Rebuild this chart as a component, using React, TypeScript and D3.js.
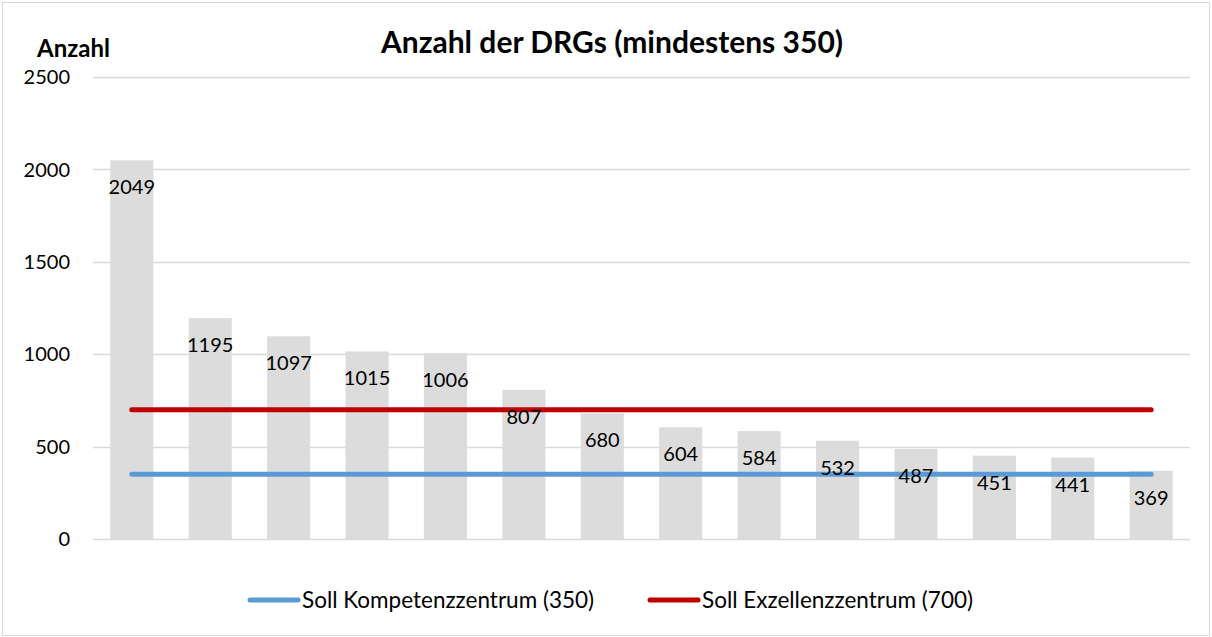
import React, { useEffect, useRef } from "react";
import * as d3 from "d3";

const categories = ["DRG 1", "DRG 2", "DRG 3", "DRG 4", "DRG 5", "DRG 6", "DRG 7", "DRG 8", "DRG 9", "DRG 10", "DRG 11", "DRG 12", "DRG 13", "DRG 14"];
const counts = [2049, 1195, 1097, 1015, 1006, 807, 680, 604, 584, 532, 487, 451, 441, 369];
const yTicks = [0, 500, 1000, 1500, 2000, 2500];
const targets = [
    { label: "Soll Kompetenzzentrum (350)", value: 350, color: "#5b9bd5" },
    { label: "Soll Exzellenzzentrum (700)", value: 700, color: "#c00000" },
];

const FONT = "Lato, 'Open Sans', sans-serif";

const App = () => {
    const chartRef = useRef<SVGSVGElement | null>(null);

    useEffect(() => {
        const width = 1212, height = 637;
        const svg = d3.select(chartRef.current)
            .attr("width", width)
            .attr("height", height);

        svg.selectAll("*").remove();

        // chart frame
        svg.append("rect")
            .attr("x", 2.5).attr("y", 2.5)
            .attr("width", 1207).attr("height", 633)
            .attr("fill", "#fff")
            .attr("stroke", "#d9d9d9");

        const x = d3.scaleBand()
            .domain(categories)
            .range([93, 1190])
            .paddingInner(0.45)
            .paddingOuter(0.22);

        const y = d3.scaleLinear()
            .domain([0, 2500])
            .range([539, 77]);

        // gridlines + tick labels
        const grid = svg.append("g");
        grid.selectAll("line")
            .data(yTicks)
            .enter()
            .append("line")
            .attr("x1", 93).attr("x2", 1190)
            .attr("y1", d => Math.round(y(d)) + 0.5)
            .attr("y2", d => Math.round(y(d)) + 0.5)
            .attr("stroke", "#d9d9d9")
            .attr("stroke-width", 1.5);

        grid.selectAll("text")
            .data(yTicks)
            .enter()
            .append("text")
            .attr("x", 70)
            .attr("y", d => y(d))
            .attr("dy", "0.36em")
            .attr("text-anchor", "end")
            .attr("font-family", FONT)
            .attr("font-size", 20)
            .attr("fill", "#000")
            .text(d => d);

        // bars
        svg.append("g")
            .selectAll("rect")
            .data(counts)
            .enter()
            .append("rect")
            .attr("x", (d, i) => x(categories[i]))
            .attr("y", d => y(d))
            .attr("width", x.bandwidth())
            .attr("height", d => y(0) - y(d))
            .attr("fill", "#dcdcdc");

        // target lines
        const x0 = x(categories[0]) + x.bandwidth() / 2;
        const x1 = x(categories[categories.length - 1]) + x.bandwidth() / 2;
        svg.append("g")
            .selectAll("line")
            .data(targets)
            .enter()
            .append("line")
            .attr("x1", x0).attr("x2", x1)
            .attr("y1", d => y(d.value))
            .attr("y2", d => y(d.value))
            .attr("stroke", d => d.color)
            .attr("stroke-width", 5)
            .attr("stroke-linecap", "round");

        // data labels (inside end)
        svg.append("g")
            .selectAll("text")
            .data(counts)
            .enter()
            .append("text")
            .attr("x", (d, i) => x(categories[i]) + x.bandwidth() / 2)
            .attr("y", d => y(d) + 34)
            .attr("text-anchor", "middle")
            .attr("font-family", FONT)
            .attr("font-size", 20)
            .attr("fill", "#000")
            .text(d => d);

        // titles
        svg.append("text")
            .attr("x", 612).attr("y", 53)
            .attr("text-anchor", "middle")
            .attr("font-family", FONT)
            .attr("font-weight", "bold")
            .attr("font-size", 30)
            .text("Anzahl der DRGs (mindestens 350)");

        svg.append("text")
            .attr("x", 37).attr("y", 57)
            .attr("font-family", FONT)
            .attr("font-weight", "bold")
            .attr("font-size", 24)
            .text("Anzahl");

        // legend
        const legendX = [248, 648];
        const legend = svg.append("g")
            .selectAll("g")
            .data(targets)
            .enter()
            .append("g")
            .attr("transform", (d, i) => `translate(${legendX[i]}, 600)`);

        legend.append("line")
            .attr("x1", 2).attr("x2", 50)
            .attr("stroke", d => d.color)
            .attr("stroke-width", 5)
            .attr("stroke-linecap", "round");

        legend.append("text")
            .attr("x", 54)
            .attr("dy", "0.36em")
            .attr("font-family", FONT)
            .attr("font-size", 22.5)
            .text(d => d.label);
    }, []);

    return (
        <div style={{ position: "absolute", left: 0, top: 0 }}>
            <svg ref={chartRef} style={{ display: "block" }}></svg>
        </div>
    );
};

export default App;
